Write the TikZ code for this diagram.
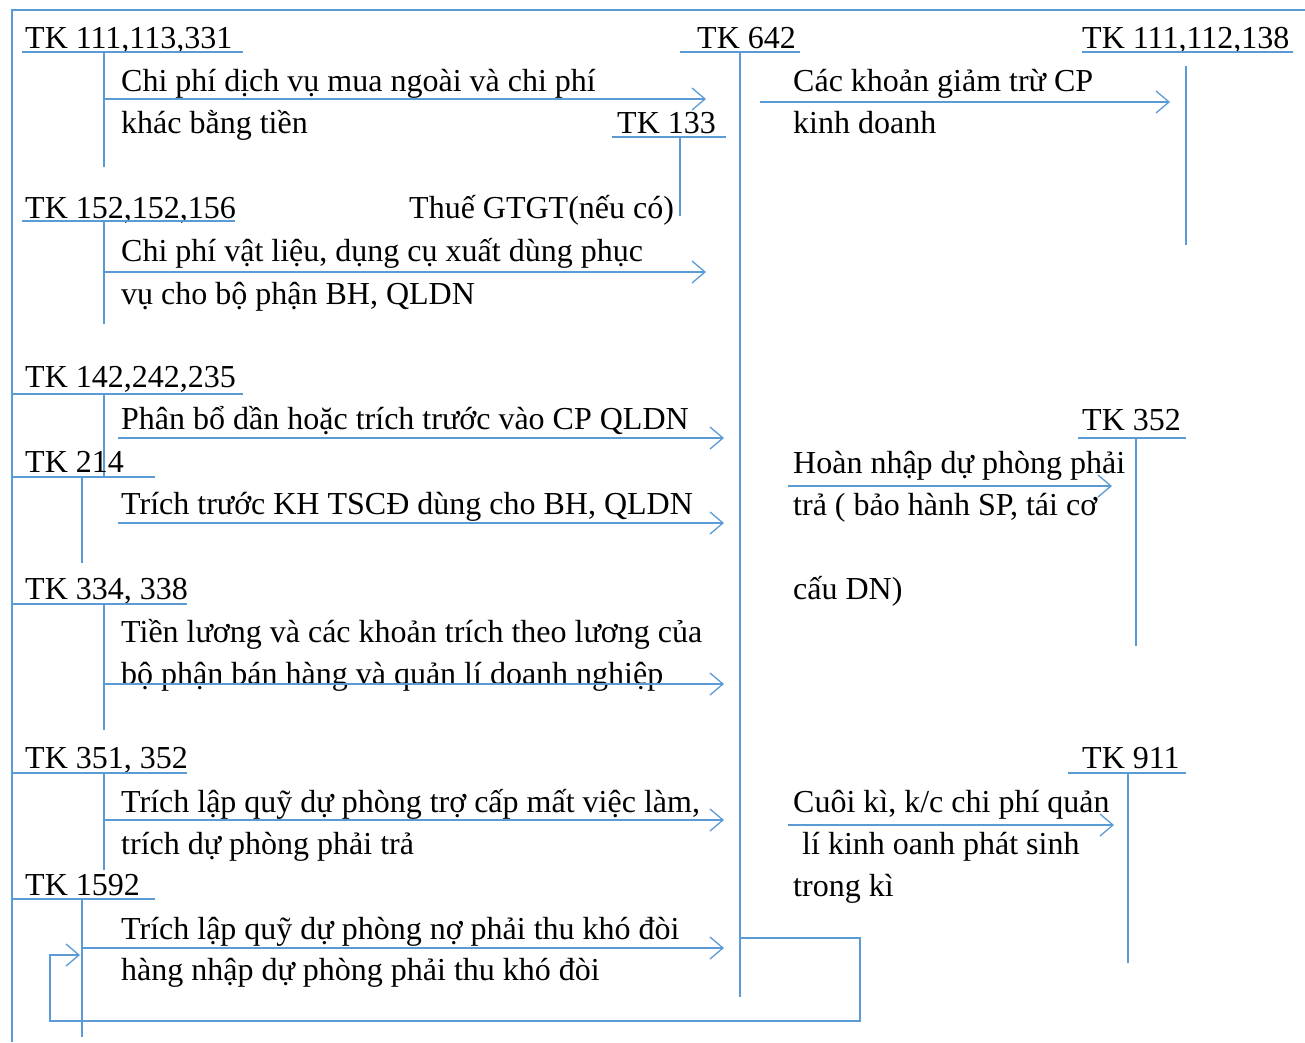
\documentclass[tikz,border=0pt]{standalone}
\usepackage{fontspec}
\setmainfont{Liberation Serif}
\usetikzlibrary{arrows.meta}
\definecolor{acctblue}{RGB}{91,155,213}
\tikzset{
	acct/.style={anchor=base west, inner sep=0pt, font=\fontsize{32}{36}\selectfont},
	memo/.style={acct},
	tline/.style={draw=acctblue, line width=1.3pt},
	flow/.style={tline, -{Straight Barb[length=13pt, width=22pt, line width=1.3pt]}},
}
\begin{document}
\begin{tikzpicture}[x=1pt, y=-1pt]
		\useasboundingbox (0,0) rectangle (1305,1042);
		\draw[tline] (12,1042) -- (12,10) -- (1305,10);
		% account labels, each with its T
		\node[acct] (tk111) at (25,48) {TK 111,113,331};
		\draw[tline] (22,52) -- (243,52) (104,52) -- (104,167);
		\node[acct] (tk642) at (697,48) {TK 642};
		\draw[tline] (680,52) -- (800,52) (740,52) -- (740,997);
		\node[acct] (tk112) at (1082,48) {TK 111,112,138};
		\draw[tline] (1082,52) -- (1293,52) (1186,66) -- (1186,245);
		\node[acct] (tk133) at (617,133) {TK 133};
		\draw[tline] (612,137) -- (726,137) (680,137) -- (680,216);
		\node[acct] (tk152) at (25,218) {TK 152,152,156};
		\draw[tline] (22,221) -- (235,221) (104,221) -- (104,324);
		\node[acct] (tk142) at (25,387) {TK 142,242,235};
		\draw[tline] (12,394) -- (243,394) (104,394) -- (104,476);
		\node[acct] (tk214) at (25,472) {TK 214};
		\draw[tline] (12,477) -- (155,477) (82,477) -- (82,563);
		\node[acct] (tk334) at (25,599) {TK 334, 338};
		\draw[tline] (12,604) -- (187,604) (104,604) -- (104,730);
		\node[acct] (tk351) at (25,768) {TK 351, 352};
		\draw[tline] (12,773) -- (187,773) (104,773) -- (104,870);
		\node[acct] (tk1592) at (25,895) {TK 1592};
		\draw[tline] (12,899) -- (155,899) (82,899) -- (82,1037);
		\node[acct] (tk352) at (1082,430) {TK 352};
		\draw[tline] (1078,438) -- (1186,438) (1136,438) -- (1136,646);
		\node[acct] (tk911) at (1082,768) {TK 911};
		\draw[tline] (1068,773) -- (1186,773) (1128,773) -- (1128,963);
		% texts on the flows
		\node[memo] (m1a) at (121,91) {Chi phí dịch vụ mua ngoài và chi phí};
		\node[memo] (m1b) at (121,133) {khác bằng tiền};
		\node[memo] (m2a) at (793,91) {Các khoản giảm trừ CP};
		\node[memo] (m2b) at (793,133) {kinh doanh};
		\node[memo] (m3) at (409,218) {Thuế GTGT(nếu có)};
		\node[memo] (m4a) at (121,261) {Chi phí vật liệu, dụng cụ xuất dùng phục};
		\node[memo] (m4b) at (121,304) {vụ cho bộ phận BH, QLDN};
		\node[memo] (m5) at (121,429) {Phân bổ dần hoặc trích trước vào CP QLDN};
		\node[memo] (m6) at (121,514) {Trích trước KH TSCĐ dùng cho BH, QLDN};
		\node[memo] (m7a) at (121,642) {Tiền lương và các khoản trích theo lương của};
		\node[memo] (m7b) at (121,684) {bộ phận bán hàng và quản lí doanh nghiệp};
		\node[memo] (m8a) at (121,812) {Trích lập quỹ dự phòng trợ cấp mất việc làm,};
		\node[memo] (m8b) at (121,854) {trích dự phòng phải trả};
		\node[memo] (m9a) at (121,939) {Trích lập quỹ dự phòng nợ phải thu khó đòi};
		\node[memo] (m9b) at (121,980) {hàng nhập dự phòng phải thu khó đòi};
		\node[memo] (m10a) at (793,473) {Hoàn nhập dự phòng phải};
		\node[memo] (m10b) at (793,515) {trả ( bảo hành SP, tái cơ};
		\node[memo] (m10c) at (793,599) {cấu DN)};
		\node[memo] (m11a) at (793,812) {Cuôi kì, k/c chi phí quản};
		\node[memo] (m11b) at (802,854) {lí kinh oanh phát sinh};
		\node[memo] (m11c) at (793,896) {trong kì};
		% flow ends
		\coordinate (f1s) at (104,99);  \coordinate (f1e) at (706,99);
		\coordinate (f2s) at (760,102); \coordinate (f2e) at (1170,102);
		\coordinate (f3s) at (104,272); \coordinate (f3e) at (706,272);
		\coordinate (f4s) at (118,438); \coordinate (f4e) at (724,438);
		\coordinate (f5s) at (118,523); \coordinate (f5e) at (724,523);
		\coordinate (f6s) at (104,684); \coordinate (f6e) at (724,684);
		\coordinate (f7s) at (104,820); \coordinate (f7e) at (724,820);
		\coordinate (f8s) at (82,948);  \coordinate (f8e) at (724,948);
		\coordinate (f9s) at (788,486); \coordinate (f9e) at (1112,486);
		\coordinate (f10s) at (788,825); \coordinate (f10e) at (1114,825);
		\coordinate (back1) at (740,938); \coordinate (back2) at (860,1021);
		\coordinate (back3) at (50,955); \coordinate (back4) at (80,955);
		\foreach \s/\e in {f1s/f1e, f2s/f2e, f3s/f3e, f4s/f4e, f5s/f5e, f6s/f6e, f7s/f7e, f8s/f8e, f9s/f9e, f10s/f10e}
			\draw[flow] (\s) -- (\e);
		\draw[flow] (back1) -| (back2) -| (back3) -- (back4);
\end{tikzpicture}
\end{document}
